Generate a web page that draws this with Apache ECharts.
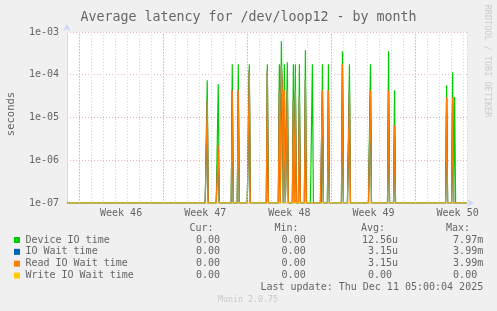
<!DOCTYPE html>
<html><head><meta charset="utf-8">
<script src="https://cdn.jsdelivr.net/npm/echarts@6/dist/echarts.min.js"></script>
<style>html,body{margin:0;padding:0;background:#f0f0f0}#c{width:497px;height:311px}</style>
</head><body><div id="c"></div>
<script>
// ---------------- data ----------------
const titleText = 'Average latency for /dev/loop12 - by month';
const weekLabels = ['Week 46', 'Week 47', 'Week 48', 'Week 49', 'Week 50'];
const weekStarts = [0, 7, 14, 21, 28];            // days since start of week 46
const weekCenters = [3.5, 10.5, 17.5, 24.5, 31.5];
// 2-hour samples that are non-zero (days since start of week 46); every other sample is 0
const spikeDays = [10.65, 11.56, 12.73, 13.23, 14.14, 15.64, 16.64, 16.81, 16.89, 17.05, 17.30, 17.80, 17.97,
                   18.30, 18.80, 19.38, 20.22, 20.75, 21.88, 22.48, 24.21, 25.79, 26.29, 30.59, 31.11, 31.26];
const deviceIO = [7.4e-5, 6.0e-5, 1.75e-4, 1.75e-4, 1.75e-4, 1.75e-4, 1.75e-4, 6.06e-4, 5.74e-4, 1.75e-4, 1.95e-4, 1.75e-4, 1.75e-4,
                  1.75e-4, 3.73e-4, 1.75e-4, 1.75e-4, 1.75e-4, 3.54e-4, 1.75e-4, 1.75e-4, 3.54e-4, 4.33e-5, 5.67e-5, 1.14e-4, 3.0e-5];
const ioWait   = [2.52e-5, 2.24e-6, 4.33e-5, 4.33e-5, 1.27e-4, 1.27e-4, 4.33e-5, 1.66e-4, 4.33e-5, 4.33e-5, 4.33e-5, 2.52e-5, 4.33e-5,
                  2.97e-5, 7.4e-5, 0, 4.33e-5, 4.33e-5, 1.75e-4, 4.33e-5, 4.33e-5, 4.33e-5, 6.56e-6, 2.97e-5, 2.97e-5, 0];
const readIOWait = [2.52e-5, 2.24e-6, 4.33e-5, 4.33e-5, 1.27e-4, 1.27e-4, 4.33e-5, 1.66e-4, 4.33e-5, 4.33e-5, 4.33e-5, 2.52e-5, 4.33e-5,
                  2.97e-5, 7.4e-5, 0, 4.33e-5, 4.33e-5, 1.75e-4, 4.33e-5, 4.33e-5, 4.33e-5, 6.56e-6, 2.97e-5, 2.97e-5, 0];
const writeIOWait = [0, 0, 0, 0, 0, 0, 0, 0, 0, 0, 0, 0, 0, 0, 0, 0, 0, 0, 0, 0, 0, 0, 0, 0, 0, 0];
const seriesNames = ['Device IO time', 'IO Wait time', 'Read IO Wait time', 'Write IO Wait time'];
const seriesColors = ['#00cc00', '#0066b3', '#ff8000', '#ffcc00'];
const curVals = ['0.00 ', '0.00 ', '0.00 ', '0.00 '];
const minVals = ['0.00 ', '0.00 ', '0.00 ', '0.00 '];
const avgVals = ['12.56u', '3.15u', '3.15u', '0.00 '];
const maxVals = ['7.97m', '3.99m', '3.99m', '0.00 '];
const colHeaders = ['Cur:', 'Min:', 'Avg:', 'Max:'];
const lastUpdate = 'Last update: Thu Dec 11 05:00:04 2025';
const versionText = 'Munin 2.0.75';
const sideText = 'RRDTOOL / TOBI OETIKER';
const yName = 'seconds';

// ---------------- chart ----------------
const FONT = "'DejaVu Sans Mono', monospace";
const TXT = '#666666';
const FLOOR = 1e-7;          // zero samples sit on the bottom of the log axis
const STEP = 1 / 12;         // 2-hour sample, in days
const X_MIN = -1, X_MAX = 32.28;
const GL = 67, GT = 32, GW = 400, GH = 171;

function buildSeries(values) {
  const byIdx = {};
  spikeDays.forEach((d, k) => { byIdx[Math.round(d / STEP)] = values[k]; });
  const out = [];
  for (let i = Math.ceil(X_MIN / STEP); i <= Math.floor(X_MAX / STEP); i++) {
    const v = byIdx[i] || 0;
    out.push([i * STEP, v > 0 ? v : FLOOR]);
  }
  return out;
}
const allValues = [deviceIO, ioWait, readIOWait, writeIOWait];

const minorY = [];
for (let e = -7; e < -3; e++) for (let k = 2; k <= 9; k++) minorY.push(k * Math.pow(10, e));
const MINOR = '#d6d6d6', MAJOR = '#e9b0b0';

const gridSeries = {
  type: 'line', data: [[X_MIN, FLOOR]], symbol: 'none', silent: true, z: 1,
  lineStyle: { opacity: 0 },
  markLine: {
    silent: true, symbol: 'none', animation: false, label: { show: false },
    data: [
      ...minorY.map(y => ({ yAxis: y, lineStyle: { color: MINOR, type: [1, 2], width: 1 } })),
      ...weekStarts.map(x => ({ xAxis: x, lineStyle: { color: MAJOR, type: [1, 2], width: 1 } }))
    ]
  }
};

const dataSeries = seriesNames.map((n, k) => ({
  name: n, type: 'line', data: buildSeries(allValues[k]), symbol: 'none', showSymbol: false,
  sampling: null, z: 2 + k, lineStyle: { color: seriesColors[k], width: 1.2 }, itemStyle: { color: seriesColors[k] },
  silent: true
}));

const graphics = [];
graphics.push({ type: 'text', left: 'center', top: 11, style: { text: titleText, font: `13.3px ${FONT}`, fill: TXT } });
graphics.push({ type: 'text', x: 487.5, y: 61, rotation: -Math.PI / 2,
  style: { text: sideText, font: `8.5px ${FONT}`, fill: '#cccccc', align: 'center', verticalAlign: 'middle' } });
graphics.push({ type: 'text', x: 11, y: 114, rotation: Math.PI / 2,
  style: { text: yName, font: `10.5px ${FONT}`, fill: TXT, align: 'center', verticalAlign: 'middle' } });
const headerX = [189.4, 274.4, 361, 446];
colHeaders.forEach((h, i) => graphics.push({ type: 'text', x: headerX[i], y: 228.3,
  style: { text: h, font: `10px ${FONT}`, fill: TXT, align: 'left', verticalAlign: 'middle' } }));
const rowY = [240, 251.85, 263.7, 275.55];
const colRight = [226, 311.7, 398, 483.2];
const cols = [curVals, minVals, avgVals, maxVals];
seriesNames.forEach((n, r) => {
  graphics.push({ type: 'rect', shape: { x: 14, y: rowY[r] - 3, width: 6, height: 6 }, style: { fill: seriesColors[r] } });
  graphics.push({ type: 'text', x: 25.4, y: rowY[r], style: { text: n, font: `10px ${FONT}`, fill: TXT, align: 'left', verticalAlign: 'middle' } });
  cols.forEach((c, j) => graphics.push({ type: 'text', x: colRight[j], y: rowY[r],
    style: { text: c[r], font: `10px ${FONT}`, fill: TXT, align: 'right', verticalAlign: 'middle' } }));
});
graphics.push({ type: 'text', x: 483.2, y: 287.7, style: { text: lastUpdate, font: `10px ${FONT}`, fill: TXT, align: 'right', verticalAlign: 'middle' } });
graphics.push({ type: 'text', x: 248, y: 300, style: { text: versionText, font: `8.3px ${FONT}`, fill: '#c8c8c8', align: 'center', verticalAlign: 'middle' } });

const option = {
  backgroundColor: '#f0f0f0',
  animation: false,
  grid: { left: GL, top: GT, width: GW, height: GH, show: true, backgroundColor: '#ffffff', borderWidth: 0 },
  xAxis: {
    type: 'value', min: X_MIN, max: X_MAX, interval: 1,
    axisLine: { show: true, onZero: false, lineStyle: { color: '#cfd6f8', width: 1 }, symbol: ['none', 'arrow'], symbolSize: [6, 7], symbolOffset: [0, 7] },
    axisTick: { show: false },
    splitLine: { show: true, lineStyle: { color: MINOR, type: [1, 2], width: 1 } },
    axisLabel: {
      show: true, customValues: weekCenters, margin: 5, color: TXT, fontFamily: FONT, fontSize: 10,
      formatter: v => { const i = weekCenters.indexOf(v); return i >= 0 ? weekLabels[i] : ''; }
    }
  },
  yAxis: {
    type: 'log', logBase: 10, min: 1e-7, max: 1e-3, splitNumber: 4,
    axisLine: { show: true, onZero: false, lineStyle: { color: '#cfd6f8', width: 1 }, symbol: ['none', 'arrow'], symbolSize: [6, 7], symbolOffset: [0, 8] },
    axisTick: { show: false },
    splitLine: { show: true, lineStyle: { color: MAJOR, type: [1, 2], width: 1 } },
    axisLabel: {
      margin: 8, color: TXT, fontFamily: FONT, fontSize: 10,
      formatter: v => { const e = Math.round(Math.log10(v)); return '1e' + (e < 0 ? '-' : '+') + String(Math.abs(e)).padStart(2, '0'); }
    }
  },
  series: [gridSeries, ...dataSeries],
  graphic: graphics
};
const chart = echarts.init(document.getElementById('c'), null, { renderer: 'canvas', width: 497, height: 311 });
chart.setOption(option);
</script></body></html>
